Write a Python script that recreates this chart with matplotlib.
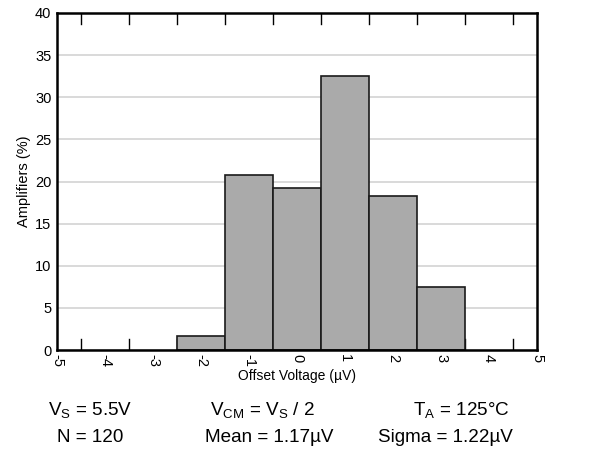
import numpy as np
import matplotlib
matplotlib.use('Agg')
import matplotlib.pyplot as plt

plt.rcParams['font.family'] = ['Liberation Sans', 'DejaVu Sans']
plt.rcParams['mathtext.fontset'] = 'custom'
plt.rcParams['mathtext.rm'] = 'Liberation Sans'
plt.rcParams['mathtext.it'] = 'Liberation Sans'

# Histogram data: bin centres (uV) and share of amplifiers (%)
bin_centers = [-2, -1, 0, 1, 2, 3]
amplifiers_pct = [1.67, 20.83, 19.17, 32.5, 18.33, 7.5]
x_ticks = list(range(-5, 6))
y_ticks = list(range(0, 45, 5))
edge_ticks = [-4.5, -3.5, -2.5, -1.5, -0.5, 0.5, 1.5, 2.5, 3.5, 4.5]

fig = plt.figure(figsize=(5.9, 4.55), dpi=100)
ax = fig.add_axes([57 / 590, 1 - 350 / 455, 480 / 590, 337 / 455])

# Grid lines behind bars
ax.set_axisbelow(True)
ax.yaxis.grid(True, color='#d3d3d3', linewidth=1.2)

ax.bar(bin_centers, amplifiers_pct, width=1.0, color='#aaaaaa',
       edgecolor='#1a1a1a', linewidth=1.2, zorder=2)

ax.set_xlim(-5, 5)
ax.set_ylim(0, 40)
ax.set_xticks(x_ticks)
ax.set_xticklabels([str(v) for v in x_ticks], rotation=270, fontsize=10.5)
ax.set_yticks(y_ticks)
ax.set_yticklabels([str(v) for v in y_ticks], fontsize=10.5)
ax.tick_params(axis='x', length=0, pad=3)
ax.tick_params(axis='y', length=0, pad=4)

# Inward ticks at bin edges on top and bottom
for xe in edge_ticks:
    ax.plot([xe, xe], [0, 1.25], color='black', linewidth=1.0, zorder=1)
    ax.plot([xe, xe], [40, 40 - 1.25], color='black', linewidth=1.0, zorder=1)

for s in ax.spines.values():
    s.set_linewidth(1.8)
    s.set_zorder(5)

ax.set_xlabel('Offset Voltage (µV)', fontsize=10, labelpad=1)
ax.set_ylabel('Amplifiers (%)', fontsize=10.5, labelpad=3)

# Footer conditions
fs = 13.6
fig.text(90 / 590, 1 - 410 / 455, r'V$_{\mathrm{S}}$ = 5.5V', ha='center', va='center', fontsize=fs)
fig.text(262 / 590, 1 - 410 / 455, r'V$_{\mathrm{CM}}$ = V$_{\mathrm{S}}$ / 2', ha='center', va='center', fontsize=fs)
fig.text(461 / 590, 1 - 410 / 455, r'T$_{\mathrm{A}}$ = 125°C', ha='center', va='center', fontsize=fs)
fig.text(90 / 590, 1 - 438 / 455, 'N = 120', ha='center', va='center', fontsize=fs)
fig.text(269 / 590, 1 - 438 / 455, 'Mean = 1.17µV', ha='center', va='center', fontsize=fs)
fig.text(445 / 590, 1 - 438 / 455, 'Sigma = 1.22µV', ha='center', va='center', fontsize=fs)

fig.savefig('out.png', dpi=100)
